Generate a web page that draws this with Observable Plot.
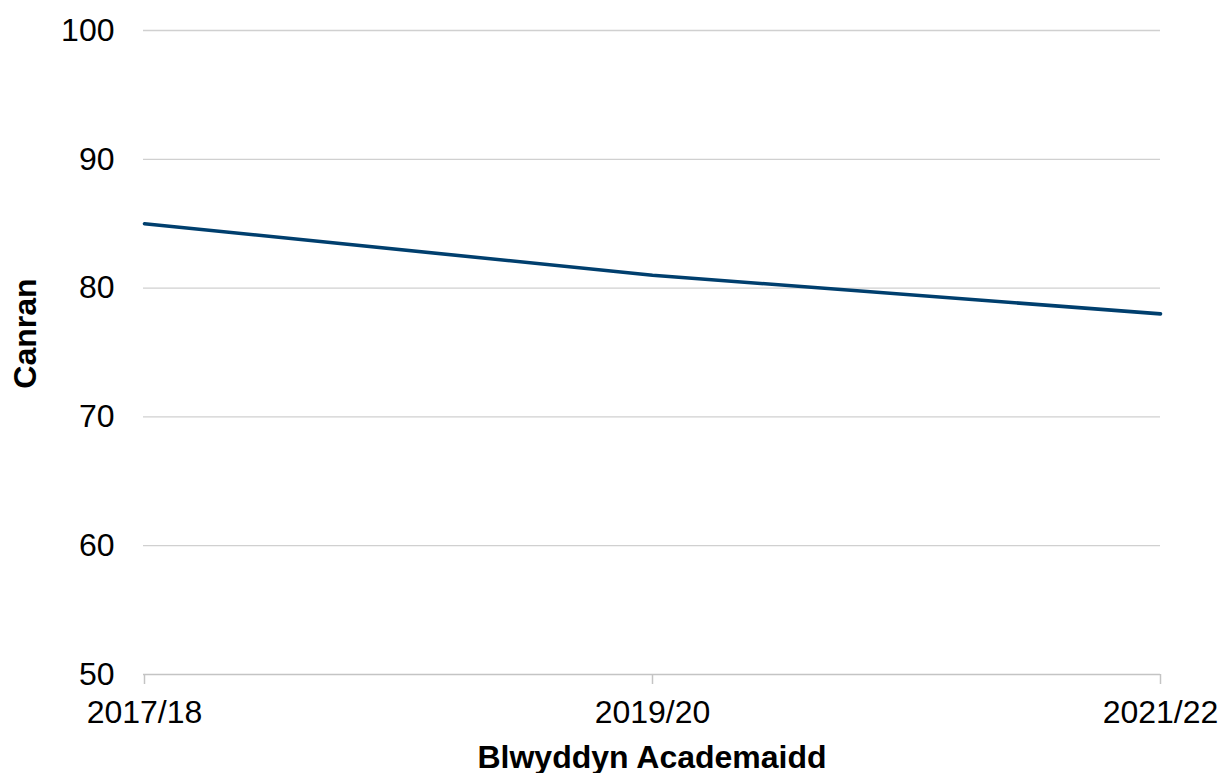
<!DOCTYPE html>
<html>
<head>
<meta charset="utf-8">
<script src="https://cdn.jsdelivr.net/npm/d3@7"></script>
<script src="https://cdn.jsdelivr.net/npm/@observablehq/plot@0.6"></script>
<style>
  html, body { margin: 0; padding: 0; background: #fff; }
</style>
</head>
<body>
<div id="chart"></div>
<script>
const years = ["2017/18", "2019/20", "2021/22"];
const values = [85, 81, 78];
const yTicks = [50, 60, 70, 80, 90, 100];
const xTitle = "Blwyddyn Academaidd";
const yTitle = "Canran";

const data = years.map((y, i) => ({year: y, value: values[i]}));

const chart = Plot.plot({
  width: 1220,
  height: 773,
  marginLeft: 143,
  marginRight: 60,
  marginTop: 30,
  marginBottom: 99,
  x: {type: "point", domain: years, padding: 0},
  y: {domain: [50, 100]},
  style: {
    fontFamily: "'Liberation Sans', Arial, sans-serif",
    fontSize: "32px",
    color: "#000",
    background: "#fff"
  },
  marks: [
    Plot.ruleY(yTicks.filter(d => d !== 50), {stroke: "#d0d0d0", strokeWidth: 1.3}),
    Plot.ruleY([50], {stroke: "#c4c4c4", strokeWidth: 1.5}),
    Plot.axisY({ticks: yTicks, tickSize: 0, tickPadding: 29, label: null, fontSize: 32, tickFormat: d => String(d)}),
    Plot.axisX({tickSize: 10, tickPadding: 16, label: null, fontSize: 32, stroke: "#c4c4c4", strokeWidth: 1.5}),
    Plot.line(data, {x: "year", y: "value", stroke: "#003f6e", strokeWidth: 3.6}),
    Plot.text([xTitle], {frameAnchor: "bottom", dy: 93, lineAnchor: "bottom", textAnchor: "middle", fontWeight: "bold", fontSize: 32, fill: "#000"}),
    Plot.text([yTitle], {frameAnchor: "left", dx: -118, dy: -19, rotate: -90, textAnchor: "middle", fontWeight: "bold", fontSize: 32, fill: "#000"})
  ]
});
document.getElementById("chart").append(chart);
</script>
</body>
</html>
